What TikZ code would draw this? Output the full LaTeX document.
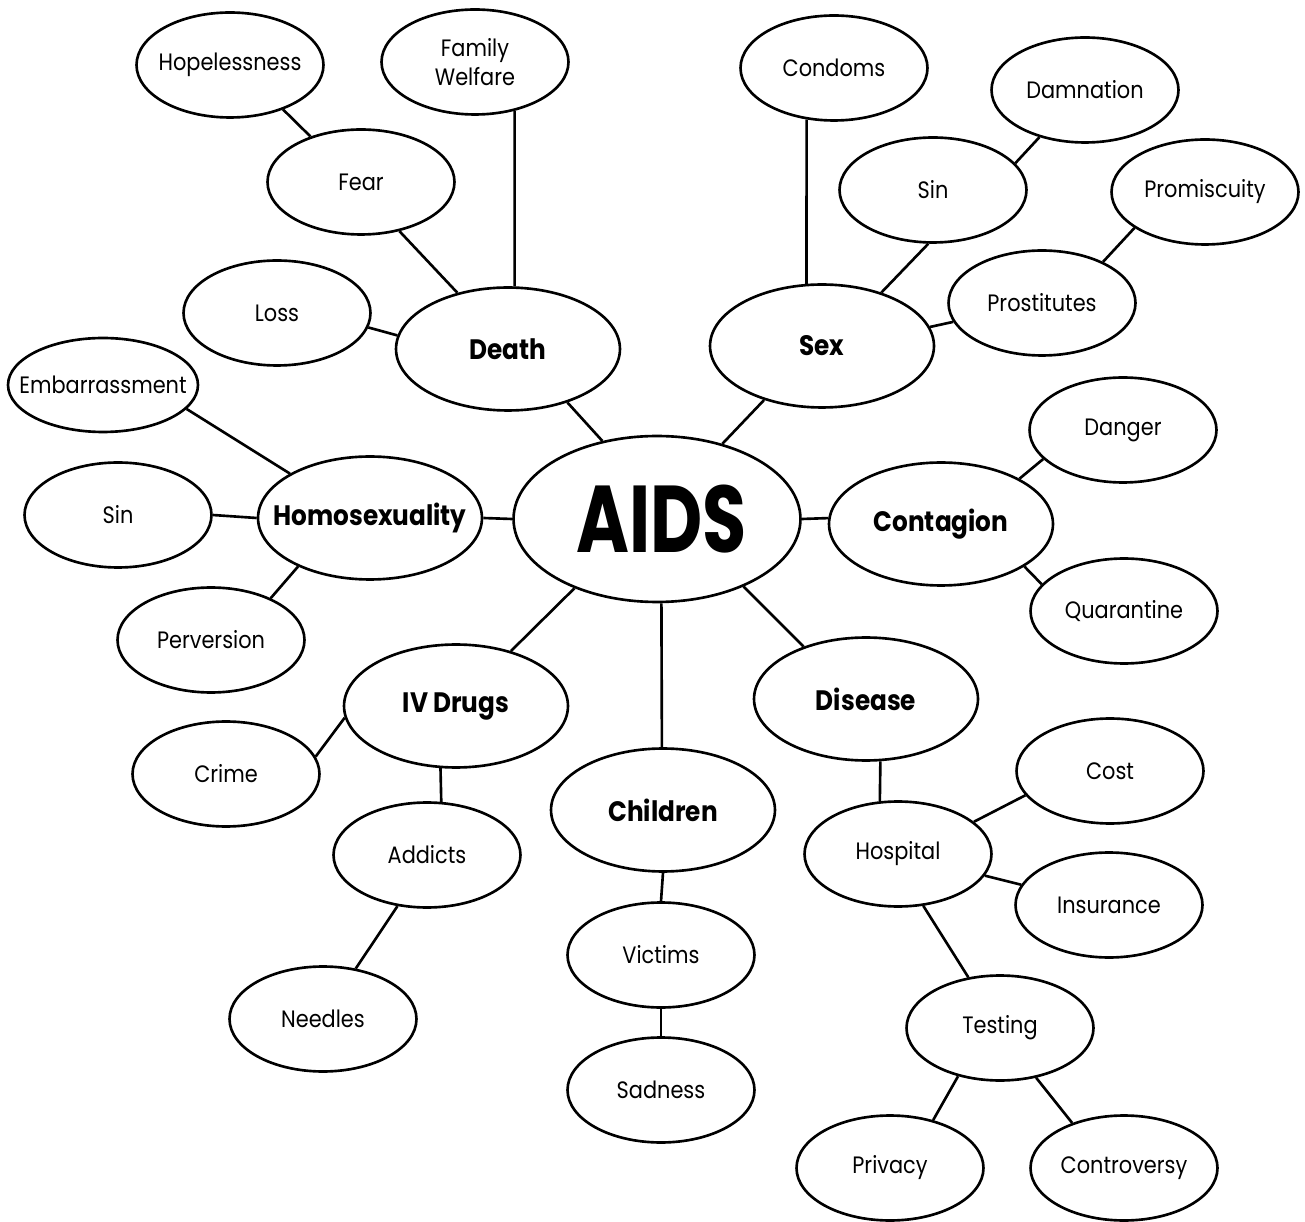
\documentclass[tikz,border=0pt]{standalone}
\usepackage{graphicx}
\usepackage{fontspec}
\setmainfont{Poppins}
\usetikzlibrary{shapes,positioning}

\newcommand{\nolbl}[1]{\makebox[0pt]{\scalebox{0.88}[1]{#1}}}

\begin{document}
\begin{tikzpicture}[x=0.02cm,y=-0.02cm,line width=1.5pt,
  idea/.style={ellipse,draw,inner sep=0pt,minimum width=3.74cm,minimum height=2.1cm,
    font=\fontsize{13.5}{14.5}\selectfont},
  topic/.style={idea,minimum width=4.48cm,minimum height=2.46cm,
    font=\fontsize{16}{18}\selectfont\bfseries}]

\useasboundingbox (0,0) rectangle (1305,1222);

\node[idea,minimum width=5.74cm,minimum height=3.32cm,font=\fontsize{54}{54}\selectfont\bfseries] (aids) at (657,519) {\nolbl{\hspace{6pt}\scalebox{0.86}[1]{AIDS}}};

\node[topic] (death) at (508,349) {\nolbl{Death}};
\node[topic] (sex) at (822,346) {\nolbl{Sex}};
\node[topic] (homo) at (370,518) {\nolbl{Homosexuality}};
\node[topic] (conta) at (941,524) {\nolbl{Contagion}};
\node[topic] (drugs) at (456,706) {\nolbl{IV Drugs}};
\node[topic] (child) at (663,810) {\nolbl{Children}};
\node[topic] (disea) at (866,699) {\nolbl{Disease}};

\node[idea] (hope) at (230,65) {\nolbl{Hopelessness}};
\node[idea] (famil) at (475,62) {\nolbl{\shortstack{Family\\Welfare}}};
\node[idea] (fear) at (361,182) {\nolbl{Fear}};
\node[idea] (loss) at (277,313) {\nolbl{Loss}};

\node[idea] (condo) at (834,68) {\nolbl{Condoms}};
\node[idea] (damna) at (1085,90) {\nolbl{Damnation}};
\node[idea] (sinA) at (933,190) {\nolbl{Sin}};
\node[idea] (promi) at (1205,192) {\nolbl{Promiscuity}};
\node[idea] (prost) at (1042,303) {\nolbl{Prostitutes}};

\node[idea,minimum width=3.8cm,minimum height=1.88cm] (embar) at (103,385) {\nolbl{Embarrassment}};
\node[idea] (sinB) at (118,515) {\nolbl{Sin}};
\node[idea] (perve) at (211,640) {\nolbl{Perversion}};

\node[idea] (dange) at (1123,430) {\nolbl{Danger}};
\node[idea] (quara) at (1124,611) {\nolbl{Quarantine}};

\node[idea] (crime) at (226,774) {\nolbl{Crime}};
\node[idea] (addic) at (427,855) {\nolbl{Addicts}};
\node[idea] (needl) at (323,1019) {\nolbl{Needles}};

\node[idea] (victi) at (661,955) {\nolbl{Victims}};
\node[idea] (sadne) at (661,1090) {\nolbl{Sadness}};

\node[idea] (cost) at (1110,771) {\nolbl{Cost}};
\node[idea] (hospi) at (898,854) {\nolbl{Hospital}};
\node[idea] (insur) at (1109,905) {\nolbl{Insurance}};
\node[idea] (testi) at (1000,1028) {\nolbl{Testing}};
\node[idea] (priva) at (890,1168) {\nolbl{Privacy}};
\node[idea] (contr) at (1124,1168) {\nolbl{Controversy}};

% links
\draw (hope.-40) -- (fear.138);
\draw (fear.-52) -- (death.132);
\draw (famil.-51) -- (death.84);
\draw (loss.-9) -- (death.173);
\draw (death.-42) -- (aids.125);

\draw (condo.-118) -- (sex.104);
\draw (damna.-134) -- (sinA.18);
\draw (sinA.-95) -- (sex.42);
\draw (promi.-153) -- (prost.34);
\draw (prost.-168) -- (sex.10);
\draw (sex.-137) -- (aids.49);

\draw (embar.-16) -- (homo.151);
\draw (sinB.0) -- (homo.180);
\draw (perve.35) -- (homo.-146);
\draw (homo.0) -- (aids.180);

\draw (aids.0) -- (conta.177);
\draw (conta.30) -- (dange.-160);
\draw (conta.-27) -- (quara.162);

\draw (aids.-140) -- (drugs.45);
\draw (drugs.-174) -- (crime.11);
\draw (drugs.-104) -- (addic.75);
\draw (addic.-120) -- (needl.57);

\draw (aids.-87) -- (child.91);
\draw (child.-90) -- (victi.90);
\draw (victi.-90) -- (sadne.90);

\draw (aids.-38) -- (disea.140);
\draw (disea.-77) -- (hospi.109);
\draw (hospi.23) -- (cost.-164);
\draw (hospi.-14) -- (insur.167);
\draw (hospi.-64) -- (testi.122);
\draw (testi.-131) -- (priva.48);
\draw (testi.-54) -- (contr.139);

\end{tikzpicture}
\end{document}
